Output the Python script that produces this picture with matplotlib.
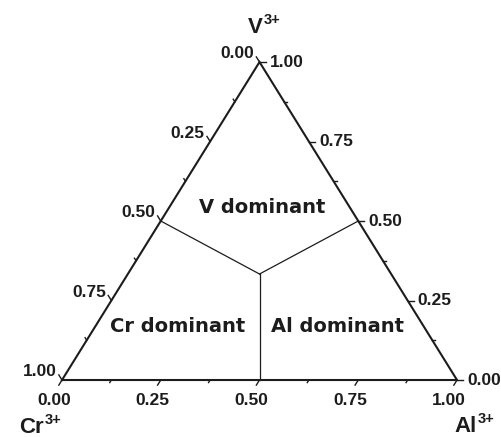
import matplotlib.pyplot as plt
import numpy as np

# compositions are (Cr, Al, V) site fractions
centre = (1/3, 1/3, 1/3)
edge_mids = [(0.5, 0.0, 0.5), (0.0, 0.5, 0.5), (0.5, 0.5, 0.0)]
major = [0.0, 0.25, 0.5, 0.75, 1.0]
minor = [0.125, 0.375, 0.625, 0.875]
major_text = ['0.00', '0.25', '0.50', '0.75', '1.00']
fields = ['Cr dominant', 'Al dominant', 'V dominant']
field_comp = [(0.633, 0.216, 0.151), (0.228, 0.621, 0.151), (0.231, 0.244, 0.525)]
corner_ion = ['Cr', 'Al', 'V']
corner_charge = ['3+', '3+', '3+']
corner_comp = [(1, 0, 0), (0, 1, 0), (0, 0, 1)]


def xy(c):
    cr, al, v = c
    return al + 0.5 * v, v


fig = plt.figure(figsize=(5.02, 4.37), dpi=100)
ax = fig.add_axes([0.1235, 0.1304, 0.7869, 0.7277])
ax.set_xlim(0, 1)
ax.set_ylim(0, 1)
ax.axis('off')

# pixels per data unit
sx, sy = 0.7869 * 502, 0.7277 * 437

ink = '#1c1c1c'
tri = [xy(c) for c in corner_comp + corner_comp[:1]]
ax.plot([p[0] for p in tri], [p[1] for p in tri], color=ink, lw=1.5,
        clip_on=False, solid_joinstyle='miter')

# field boundaries from the centre to the middle of each edge
for m in edge_mids:
    a, b = xy(centre), xy(m)
    ax.plot([a[0], b[0]], [a[1], b[1]], color=ink, lw=0.9, clip_on=False)


def unit(v):
    v = np.array(v, float)
    return v / np.hypot(*v)


# each axis: point on the edge for value t, outward tick direction (pixels)
axes_def = [
    ('left', lambda t: (t, 0, 1 - t), unit((-0.5 * sx, 1.0 * sy))),
    ('right', lambda t: (0, 1 - t, t), unit((1.0, 0.0))),
    ('bottom', lambda t: (1 - t, t, 0), unit((-0.5 * sx, -1.0 * sy))),
]

for side, comp, d in axes_def:
    for t, ln in [(t, 6) for t in major] + [(t, 3) for t in minor]:
        x0, y0 = xy(comp(t))
        ax.plot([x0, x0 + ln * d[0] / sx], [y0, y0 + ln * d[1] / sy],
                color=ink, lw=1.0, clip_on=False)
    for t, s in zip(major, major_text):
        p = xy(comp(t))
        if side == 'left':
            off, ha, va = 10 * d, 'right', 'center'
        elif side == 'right':
            off, ha, va = 10 * d, 'left', 'center'
        else:
            off, ha, va = 15 * d, 'center', 'top'
        ax.annotate(s, xy=p, xytext=off, textcoords='offset pixels',
                    ha=ha, va=va, fontsize=12.5, fontweight='bold',
                    family='Liberation Sans', color=ink)

for s, c in zip(fields, field_comp):
    ax.text(*xy(c), s, ha='center', va='baseline', fontsize=14,
            fontweight='bold', family='DejaVu Sans', color=ink)

# corner ions with their charge as a raised superscript
corner_off = [(-18, -53), (20, -52), (3, 29)]
for ion, q, c, (ox, oy) in zip(corner_ion, corner_charge, corner_comp, corner_off):
    ax.annotate(ion, xy=xy(c), xytext=(ox, oy), textcoords='offset pixels',
                ha='right', va='baseline', fontsize=16, fontweight='bold',
                family='Liberation Sans', color=ink)
    ax.annotate(q, xy=xy(c), xytext=(ox + 1, oy + 9), textcoords='offset pixels',
                ha='left', va='baseline', fontsize=10.5, fontweight='bold',
                family='Liberation Sans', color=ink)

fig.savefig('out.png', dpi=100)
